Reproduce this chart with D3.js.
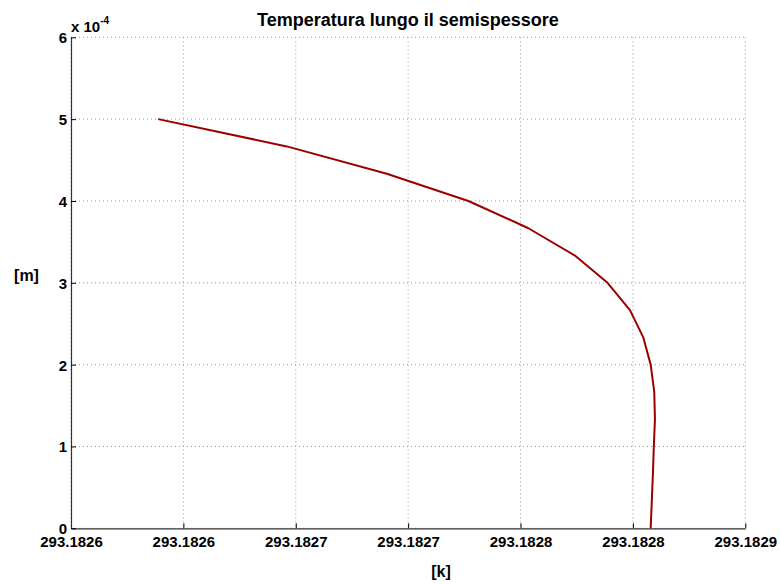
<!DOCTYPE html>
<html>
<head>
<meta charset="utf-8">
<script src="https://cdn.jsdelivr.net/npm/d3@7"></script>
<style>
  html, body { margin: 0; padding: 0; background: #fff; }
  svg text { font-family: "Liberation Sans", Arial, Helvetica, sans-serif; font-weight: bold; fill: #000; }
</style>
</head>
<body>
<svg id="chart" width="780" height="585"></svg>
<script>
// Temperature profile across the half-thickness
const temperatureK = [
  293.1825888, 293.1826460, 293.1826905, 293.1827268, 293.1827535,
  293.1827742, 293.1827887, 293.1827987, 293.1828046, 293.1828079,
  293.1828095, 293.1828098, 293.1828093, 293.1828089, 293.1828084,
  293.1828079
];
// Position in units of 1e-4 m
const positionE4 = [
  5.0, 4.6667, 4.3333, 4.0, 3.6667,
  3.3333, 3.0, 2.6667, 2.3333, 2.0,
  1.6667, 1.3333, 1.0, 0.6667, 0.3333,
  0.0
];
const xTicks = [293.18255, 293.18260, 293.18265, 293.18270, 293.18275, 293.18280, 293.18285];
const xTickLabels = ["293.1826", "293.1826", "293.1827", "293.1827", "293.1828", "293.1828", "293.1829"];
const yTicks = [0, 1, 2, 3, 4, 5, 6];

const svg = d3.select("#chart");
const plotLeft = 71, plotRight = 745.3, plotTop = 37.3, plotBottom = 528.3;

const x = d3.scaleLinear().domain([293.18255, 293.18285]).range([plotLeft, plotRight]);
const y = d3.scaleLinear().domain([0, 6]).range([plotBottom, plotTop]);

// dotted grid
const grid = svg.append("g");
grid.selectAll("line.gx").data(xTicks).join("line")
  .attr("x1", d => x(d)).attr("x2", d => x(d))
  .attr("y1", plotTop).attr("y2", plotBottom)
  .attr("stroke", "#999").attr("stroke-width", 1).attr("stroke-dasharray", "1,3");
grid.selectAll("line.gy").data(yTicks).join("line")
  .attr("y1", d => y(d)).attr("y2", d => y(d))
  .attr("x1", plotLeft).attr("x2", plotRight)
  .attr("stroke", "#999").attr("stroke-width", 1).attr("stroke-dasharray", "1,3");

// axes with inward ticks
const xAxis = d3.axisBottom(x).tickValues(xTicks)
  .tickFormat((d, i) => xTickLabels[i])
  .tickSizeInner(-5).tickSizeOuter(0).tickPadding(5);
const yAxis = d3.axisLeft(y).tickValues(yTicks).tickFormat(d3.format("d"))
  .tickSizeInner(-5).tickSizeOuter(0).tickPadding(4);

const gx = svg.append("g").attr("transform", `translate(0,${plotBottom})`).call(xAxis);
const gy = svg.append("g").attr("transform", `translate(${plotLeft},0)`).call(yAxis);
[gx, gy].forEach(g => {
  g.select(".domain").attr("stroke", "#333").attr("stroke-width", 1.2);
  g.selectAll(".tick line").attr("stroke", "#000");
  g.selectAll(".tick text").attr("font-size", 15)
    .attr("font-family", "Liberation Sans, Arial, sans-serif")
    .attr("font-weight", "bold").attr("fill", "#000");
});
gx.selectAll(".tick text").attr("y", 7).attr("dy", "0.75em");
gy.selectAll(".tick text").attr("dy", "0.36em");

// curve
const pts = temperatureK.map((t, i) => [t, positionE4[i]]);
svg.append("path")
  .datum(pts)
  .attr("fill", "none")
  .attr("stroke", "#9b0000")
  .attr("stroke-width", 2)
  .attr("stroke-linejoin", "round")
  .attr("d", d3.line().x(d => x(d[0])).y(d => y(d[1])));

// labels
svg.append("text").attr("x", 408).attr("y", 26).attr("text-anchor", "middle")
  .attr("font-size", 18).text("Temperatura lungo il semispessore");
svg.append("text").attr("x", 441).attr("y", 577).attr("text-anchor", "middle")
  .attr("font-size", 16).text("[k]");
svg.append("text").attr("x", 26.5).attr("y", 281).attr("text-anchor", "middle")
  .attr("font-size", 16).text("[m]");
const exp = svg.append("text").attr("x", 71).attr("y", 32).attr("font-size", 15);
exp.append("tspan").text("x 10");
exp.append("tspan").attr("font-size", 10).attr("dy", -8).text("-4");
</script>
</body>
</html>
